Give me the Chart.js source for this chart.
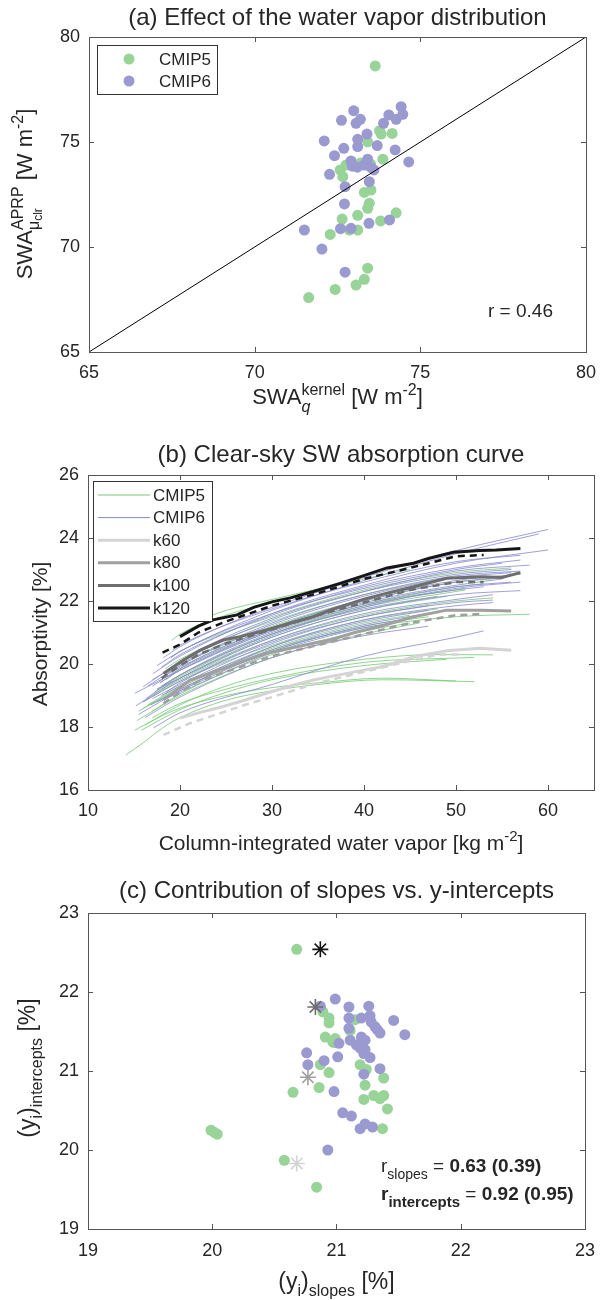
<!DOCTYPE html>
<html>
<head>
<meta charset="utf-8">
<title>Clear-sky SW absorption</title>
<script src="https://cdn.jsdelivr.net/npm/chart.js@4.4.1/dist/chart.umd.min.js"></script>
<style>
  html, body { margin: 0; padding: 0; background: #fff; }
  .panel { position: absolute; left: 0; width: 606px; }
</style>
</head>
<body>
<div class="panel" style="top:0;height:430px"><canvas id="chartA"></canvas></div>
<div class="panel" style="top:430px;height:440px"><canvas id="chartB"></canvas></div>
<div class="panel" style="top:870px;height:430px"><canvas id="chartC"></canvas></div>
<script>
var FONT = '"Liberation Sans", Arial, Helvetica, sans-serif';
var INK = '#262626';
var FRAME = '#555555';
var GREEN_DOT = 'rgb(152,211,152)';
var PURPLE_DOT = 'rgb(154,154,209)';
var GREEN_LINE = 'rgb(118,200,118)';
var PURPLE_LINE = 'rgb(136,136,206)';

// ---------- (a) water vapor distribution ----------
var aTicks = [65, 70, 75, 80];
var aCmip5X = [73.64, 72.58, 72.76, 72.66, 72.64, 72.28, 72.43, 71.63, 73.77, 73.82, 74.15, 73.41, 73.87, 73.31,
               73.51, 73.46, 73.41, 74.27, 73.11, 73.80, 73.11, 72.86, 73.41, 73.31, 73.06, 73.50, 73.20];
var aCmip5Y = [78.62, 73.67, 73.90, 73.35, 71.33, 70.60, 67.98, 67.59, 75.54, 75.38, 75.41, 75.01, 74.18, 72.60,
               72.71, 72.08, 71.84, 71.63, 71.51, 71.24, 70.81, 70.81, 68.99, 68.46, 68.19, 73.95, 74.00];
var aCmip6X = [72.62, 72.10, 72.69, 72.41, 72.26, 72.73, 72.71, 71.50, 72.59, 72.03, 72.73, 72.99, 73.06, 73.19,
               74.42, 74.05, 74.27, 74.47, 73.89, 73.39, 73.11, 73.11, 73.70, 74.24, 72.91, 73.41, 74.65, 72.95,
               73.10, 73.30, 73.50, 73.60, 73.46, 73.45, 74.07, 72.91];
var aCmip6Y = [76.03, 75.05, 74.70, 74.35, 73.46, 72.87, 72.05, 70.81, 70.87, 69.90, 68.80, 76.49, 75.89, 76.08,
               76.68, 76.29, 76.08, 76.32, 75.89, 75.38, 75.13, 74.78, 74.83, 74.62, 74.10, 74.18, 74.05, 73.85,
               73.80, 73.90, 73.80, 73.67, 73.11, 71.13, 71.29, 70.89];
var aOneToOne = [65, 80];
var aCorr = 'r = 0.46';

// ---------- (b) absorption curves ----------
var bXTicks = [10, 20, 30, 40, 50, 60];
var bYTicks = [16, 18, 20, 22, 24, 26];
var bCmip5 = [
  [[14.1,17.11],[16,17.5],[18,17.95],[20,18.3],[25,18.85],[30,19.15],[35,19.35],[42,19.5],[52,19.44]],
  [[15.1,17.9],[18,18.35],[20,18.6],[25,19.0],[30,19.25],[35,19.4],[42,19.55],[50,19.46]],
  [[15.8,17.9],[20,18.55],[25,19.1],[30,19.5],[40,19.95],[49,20.15]],
  [[17,18.3],[20,18.75],[25,19.2],[30,19.55],[40,20.05],[52,20.21]],
  [[16.2,18.06],[20,18.7],[25,19.3],[30,19.7],[40,20.15],[48,20.3],[54,20.29]],
  [[15.3,18.2],[20,19.0],[30,20.2],[40,20.95],[46,21.3]],
  [[17,18.5],[20,19.05],[30,20.3],[40,21.05],[45,21.3]],
  [[16.5,18.7],[20,19.3],[30,20.5],[40,21.3],[45,21.55]],
  [[16,18.6],[20,19.2],[30,20.4],[40,21.2],[47,21.5]],
  [[15.5,18.5],[20,19.25],[30,20.45],[40,21.15],[50,21.5],[58,21.58]],
  [[16,18.8],[20,19.45],[30,20.6],[40,21.4],[48,21.75]],
  [[17,19.0],[20,19.5],[30,20.75],[40,21.55],[50,22.0],[54,22.1]],
  [[18,19.2],[20,19.55],[30,20.85],[40,21.7],[49,22.15]],
  [[17.5,19.2],[20,19.65],[30,20.95],[40,21.8],[51,22.35]],
  [[17.2,19.1],[20,19.6],[30,20.95],[40,21.85],[50,22.45],[53,22.55]],
  [[17.8,19.4],[20,19.8],[30,21.05],[40,21.9],[51,22.4]],
  [[18.2,19.6],[20,19.95],[30,21.2],[40,22.05],[47,22.5]],
  [[18.5,19.5],[20,19.85],[30,21.15],[40,22.0],[50,22.6],[54,22.7]],
  [[18.4,19.85],[20,20.15],[30,21.35],[40,22.2],[49,22.75]],
  [[19,20.2],[20,20.4],[30,21.5],[40,22.35],[50,22.9],[56,23.05]],
  [[19.1,20.75],[20,20.95],[25,21.55],[30,21.95],[40,22.7],[45,23.0]],
  [[21.6,21.34],[25,21.7],[30,22.05],[36,22.45]]
];
var bCmip6 = [
  [[18.2,20.2],[20,20.55],[25,21.25],[30,21.8],[40,22.75],[50,23.6],[60,24.27]],
  [[17.5,19.95],[20,20.4],[30,21.7],[40,22.65],[50,23.5],[59,24.13]],
  [[17.1,19.7],[20,20.25],[30,21.6],[40,22.5],[50,23.2],[60,23.62]],
  [[18,19.9],[20,20.3],[30,21.55],[40,22.45],[50,23.05],[57,23.3]],
  [[19.2,20.45],[20,20.6],[30,21.75],[40,22.6],[50,23.25],[57,23.45]],
  [[19,20.2],[20,20.4],[30,21.6],[40,22.4],[50,23.0],[55,23.2]],
  [[16,19.28],[20,20.05],[30,21.4],[40,22.3],[50,22.95],[58,23.14]],
  [[18.6,19.8],[20,20.1],[30,21.45],[40,22.3],[50,22.85],[56,23.0]],
  [[17,19.5],[20,20.0],[30,21.3],[40,22.2],[50,22.8],[57,22.95]],
  [[16.5,19.3],[20,19.95],[30,21.25],[40,22.15],[50,22.75],[56,22.9]],
  [[18.2,19.6],[20,19.9],[30,21.15],[40,22.05],[50,22.65],[57,22.85]],
  [[17.8,19.4],[20,19.8],[30,21.1],[40,22.0],[50,22.6],[55,22.75]],
  [[17,19.3],[20,19.85],[30,21.1],[40,21.95],[50,22.5],[55,22.7]],
  [[15.1,19.07],[20,19.8],[30,21.05],[40,21.9],[50,22.45],[56,22.6]],
  [[15.2,18.67],[20,19.55],[30,20.9],[40,21.8],[50,22.4],[57,22.6]],
  [[16.3,18.9],[20,19.65],[30,21.0],[40,21.85],[50,22.35],[53,22.45]],
  [[18,19.3],[20,19.65],[30,20.95],[40,21.75],[48,22.15]],
  [[17.5,19.2],[20,19.55],[30,20.85],[40,21.7],[50,22.2],[57,22.33]],
  [[16,18.8],[20,19.45],[30,20.75],[40,21.6],[50,22.05],[54,22.2]],
  [[17,18.9],[20,19.35],[30,20.65],[40,21.5],[50,21.95],[54,22.03]],
  [[15.5,18.4],[20,19.15],[30,20.55],[40,21.4],[50,21.85],[54,21.95]],
  [[18,19.0],[20,19.3],[30,20.55],[40,21.35],[47,21.7]],
  [[18.5,19.1],[20,19.4],[30,20.7],[40,21.5],[47,21.85]],
  [[17.5,18.8],[20,19.2],[30,20.45],[40,21.25],[47,21.6]],
  [[16.8,18.7],[20,19.15],[30,20.4],[40,21.2],[45,21.45]],
  [[16.2,18.3],[20,18.95],[30,20.2],[40,20.9],[47,21.2]],
  [[18.5,18.9],[20,19.1],[30,20.35],[40,21.15],[43,21.3]],
  [[17.1,17.97],[20,18.45],[30,19.35],[40,20.25],[50,20.85],[53,21.05]]
];
var kNames = ['k60', 'k80', 'k100', 'k120'];
var kSolid = [
  [[20,18.28],[22,18.45],[24.7,18.65],[27,18.85],[29.4,19.07],[32,19.3],[34.5,19.49],[36.3,19.6],[39,19.75],[41.7,19.9],[43,20.0],[45.4,20.23],[49,20.42],[52.6,20.5],[56,20.44]],
  [[18.2,18.86],[21.1,19.49],[24.3,19.81],[27,20.1],[29.4,20.34],[32,20.5],[34.5,20.66],[36.3,20.76],[39,21.0],[41.7,21.19],[45.4,21.5],[49,21.71],[52.6,21.71],[56,21.68]],
  [[18.2,19.7],[20.4,20.13],[22.2,20.44],[24.7,20.76],[26.5,20.87],[29.4,21.08],[32,21.3],[34.5,21.5],[36.3,21.71],[39.9,22.05],[42.5,22.25],[45.4,22.45],[49,22.72],[52.9,22.77],[55,22.75],[57,22.9]],
  [[20,20.87],[22,21.2],[23.6,21.4],[26.2,21.56],[28,21.8],[30.1,21.98],[32,22.1],[34.5,22.3],[37.4,22.56],[39.9,22.8],[42.5,23.05],[45.4,23.2],[47,23.35],[49.7,23.55],[52.6,23.6],[54.4,23.62],[57,23.67]]
];
var kDashed = [
  [[18.2,17.75],[21.1,18.12],[24,18.4],[27,18.7],[30,18.95],[35,19.4],[40,19.75],[45,20.1],[48,20.3],[50.7,20.3]],
  [[18.2,18.75],[20,19.1],[22,19.45],[25,19.75],[30,20.25],[35,20.6],[40,20.95],[45,21.3],[50,21.55],[53,21.59]],
  [[18,19.55],[20,19.95],[22,20.3],[25,20.65],[30,21.1],[35,21.55],[40,21.95],[45,22.35],[50,22.6],[53,22.6]],
  [[18.1,20.36],[20,20.62],[22,21.0],[25,21.35],[30,21.85],[35,22.25],[40,22.7],[45,23.05],[50,23.42],[53,23.46]]
];
var kColors = ['rgb(212,212,212)', 'rgb(160,160,160)', 'rgb(110,110,110)', 'rgb(22,22,22)'];

// ---------- (c) slopes vs intercepts ----------
var cTicks = [19, 20, 21, 22, 23];
var cCmip5X = [20.68, 20.89, 20.94, 20.94, 20.91, 20.97, 20.87, 20.94, 20.86, 20.65, 19.99, 20.02, 20.04, 20.58, 20.84,
               21.15, 21.11, 20.99, 20.98, 21.19, 21.24, 21.38, 21.23, 21.30, 21.35, 21.38, 21.22, 21.41, 21.37];
var cCmip5Y = [22.54, 21.75, 21.67, 21.61, 21.43, 21.37, 21.08, 20.98, 20.79, 20.73, 20.25, 20.22, 20.20, 19.87, 19.53,
               21.65, 21.51, 21.41, 21.36, 21.08, 21.02, 20.91, 20.82, 20.69, 20.65, 20.69, 20.64, 20.52, 20.27];
var cCmip6X = [20.87, 20.99, 21.10, 21.26, 21.10, 21.20, 21.27, 21.28, 21.31, 21.33, 21.35, 21.46, 21.55, 21.10, 21.02,
               21.11, 21.16, 21.20, 21.23, 21.19, 21.23, 21.22, 21.27, 21.01, 20.76, 20.77, 20.90, 21.35, 21.22, 20.98,
               21.05, 21.12, 21.19, 21.23, 21.29, 20.93];
var cCmip6Y = [21.82, 21.91, 21.81, 21.82, 21.67, 21.67, 21.70, 21.62, 21.56, 21.52, 21.48, 21.64, 21.46, 21.54, 21.35,
               21.39, 21.33, 21.43, 21.39, 21.29, 21.27, 21.22, 21.17, 21.18, 21.23, 21.08, 21.13, 21.03, 20.96, 20.74,
               20.47, 20.43, 20.27, 20.33, 20.29, 20.00];
var cKernelX = [20.68, 20.77, 20.83, 20.87];
var cKernelY = [19.83, 20.92, 21.81, 22.54];

// ---------- helpers ----------
function xy(xs, ys) {
  return xs.map(function (x, i) { return { x: x, y: ys[i] }; });
}
function pts(curve) {
  return curve.map(function (p) { return { x: p[0], y: p[1] }; });
}
function fontOf(s) {
  return (s.i ? 'italic ' : '') + (s.b ? 'bold ' : '') + (s.size || 21) + 'px ' + FONT;
}
// draws text with super/subscripts; stacked scripts share a start position
function drawRich(ctx, segs, x, y, align, rot) {
  ctx.save();
  ctx.translate(x, y);
  if (rot) ctx.rotate(rot);
  ctx.textAlign = 'left';
  ctx.textBaseline = 'alphabetic';
  ctx.fillStyle = INK;
  var pos = 0, groupStart = 0, maxPos = 0;
  var placed = segs.map(function (s) {
    ctx.font = fontOf(s);
    var w = ctx.measureText(s.t).width;
    var start = s.stack ? groupStart : (s.script ? pos : maxPos);
    if (s.g) groupStart = start;
    pos = start + w;
    maxPos = Math.max(maxPos, pos);
    return { s: s, start: start };
  });
  var off = align === 'center' ? -maxPos / 2 : 0;
  placed.forEach(function (p) {
    ctx.font = fontOf(p.s);
    ctx.fillText(p.s.t, p.start + off, p.s.dy || 0);
  });
  ctx.restore();
}
function title(ctx, a, text, baseline) {
  ctx.save();
  ctx.font = '24px ' + FONT;
  ctx.fillStyle = INK;
  ctx.textAlign = 'center';
  ctx.textBaseline = 'alphabetic';
  ctx.fillText(text, (a.left + a.right) / 2, baseline);
  ctx.restore();
}
function axis(ticks, min, max, size, pad) {
  return {
    type: 'linear', min: min, max: max,
    grid: { display: false, drawTicks: false },
    border: { display: false },
    ticks: { font: { family: FONT, size: 18 }, color: INK, padding: pad },
    afterBuildTicks: function (s) { s.ticks = ticks.map(function (v) { return { value: v }; }); },
    afterFit: function (s) { if (s.isHorizontal()) { s.height = size; } else { s.width = size; } }
  };
}
function base(pad, xs, ys) {
  return {
    responsive: true, maintainAspectRatio: false, animation: false, events: [],
    layout: { padding: pad },
    plugins: { legend: { display: false }, tooltip: { enabled: false } },
    scales: { x: xs, y: ys }
  };
}
// box + inward ticks on all four sides, then the panel's own text
function frame(extra) {
  return {
    id: 'frame',
    afterDraw: function (chart) {
      var ctx = chart.ctx, a = chart.chartArea, sx = chart.scales.x, sy = chart.scales.y;
      ctx.save();
      ctx.strokeStyle = FRAME;
      ctx.lineWidth = 1;
      ctx.beginPath();
      sx.ticks.forEach(function (t) {
        var p = Math.round(sx.getPixelForValue(t.value)) + 0.5;
        ctx.moveTo(p, a.bottom); ctx.lineTo(p, a.bottom - 5);
        ctx.moveTo(p, a.top); ctx.lineTo(p, a.top + 5);
      });
      sy.ticks.forEach(function (t) {
        var p = Math.round(sy.getPixelForValue(t.value)) + 0.5;
        ctx.moveTo(a.left, p); ctx.lineTo(a.left + 5, p);
        ctx.moveTo(a.right, p); ctx.lineTo(a.right - 5, p);
      });
      ctx.stroke();
      ctx.strokeRect(Math.round(a.left) + 0.5, Math.round(a.top) + 0.5,
                     Math.round(a.right - a.left), Math.round(a.bottom - a.top));
      ctx.restore();
      extra(ctx, a);
    }
  };
}

// ---------- chart (a) ----------
new Chart(document.getElementById('chartA'), {
  type: 'scatter',
  data: { datasets: [
    { label: 'CMIP5', data: xy(aCmip5X, aCmip5Y), backgroundColor: GREEN_DOT, borderWidth: 0, pointRadius: 5.5, order: 3 },
    { label: 'CMIP6', data: xy(aCmip6X, aCmip6Y), backgroundColor: PURPLE_DOT, borderWidth: 0, pointRadius: 5.5, order: 2 },
    { label: '1:1', data: xy(aOneToOne, aOneToOne), showLine: true, borderColor: '#000', borderWidth: 1, pointRadius: 0, order: 1 }
  ]},
  options: base({ left: 49, right: 19, top: 37, bottom: 38 }, axis(aTicks, 65, 80, 40, 10), axis(aTicks, 65, 80, 40, 9)),
  plugins: [frame(function (ctx, a) {
    title(ctx, a, '(a) Effect of the water vapor distribution', 25);
    drawRich(ctx, [
      { t: 'SWA', size: 22 }, { t: 'kernel', size: 16, dy: -9, script: 1, g: 1 }, { t: 'q', size: 16, dy: 8, i: 1, script: 1, stack: 1 },
      { t: ' [W m', size: 22 }, { t: '-2', size: 16, dy: -9, script: 1 }, { t: ']', size: 22 }
    ], (a.left + a.right) / 2, 404, 'center');
    drawRich(ctx, [
      { t: 'SWA', size: 22 }, { t: 'APRP', size: 16, dy: -9, script: 1, g: 1 }, { t: '\u03bc', size: 16, dy: 7, script: 1, stack: 1 },
      { t: 'clr', size: 12, dy: 10, script: 1 }, { t: ' [W m', size: 22 }, { t: '-2', size: 16, dy: -9, script: 1 }, { t: ']', size: 22 }
    ], 32, 194, 'center', -Math.PI / 2);
    // legend
    ctx.save();
    ctx.strokeStyle = '#333';
    ctx.lineWidth = 1;
    ctx.strokeRect(97.5, 45.5, 120, 49);
    [['CMIP5', GREEN_DOT, 59], ['CMIP6', PURPLE_DOT, 81]].forEach(function (e) {
      ctx.fillStyle = e[1];
      ctx.beginPath(); ctx.arc(129, e[2], 5.5, 0, Math.PI * 2); ctx.fill();
      ctx.fillStyle = INK;
      ctx.font = '17px ' + FONT;
      ctx.textBaseline = 'middle';
      ctx.fillText(e[0], 159, e[2] + 1);
    });
    ctx.font = '19px ' + FONT;
    ctx.textBaseline = 'alphabetic';
    ctx.fillText(aCorr, 488, 317);
    ctx.restore();
  })]
});

// ---------- chart (b) ----------
var bSets = [];
bCmip5.forEach(function (c) {
  bSets.push({ data: pts(c), borderColor: GREEN_LINE, borderWidth: 0.8, pointRadius: 0, cubicInterpolationMode: 'monotone', order: 4 });
});
bCmip6.forEach(function (c) {
  bSets.push({ data: pts(c), borderColor: PURPLE_LINE, borderWidth: 0.8, pointRadius: 0, cubicInterpolationMode: 'monotone', order: 3 });
});
kNames.forEach(function (n, i) {
  bSets.push({ label: n + ' (dashed)', data: pts(kDashed[i]), borderColor: kColors[i], borderWidth: 2.5, borderDash: [7, 5], pointRadius: 0, order: 2 });
  bSets.push({ label: n, data: pts(kSolid[i]), borderColor: kColors[i], borderWidth: 3, pointRadius: 0, order: 1 });
});
new Chart(document.getElementById('chartB'), {
  type: 'line',
  data: { datasets: bSets },
  options: base({ left: 48, right: 12, top: 45, bottom: 40 }, axis(bXTicks, 10, 65, 40, 10), axis(bYTicks, 16, 26, 40, 9)),
  plugins: [frame(function (ctx, a) {
    title(ctx, a, '(b) Clear-sky SW absorption curve', 32);
    drawRich(ctx, [{ t: 'Column-integrated water vapor [kg m' }, { t: '-2', size: 15, dy: -9, script: 1 }, { t: ']' }],
             (a.left + a.right) / 2, 420, 'center');
    drawRich(ctx, [{ t: 'Absorptivity [%]' }], 47, 204, 'center', -Math.PI / 2);
    // legend
    ctx.save();
    ctx.fillStyle = '#fff';
    ctx.fillRect(93.5, 51.5, 119, 140);
    ctx.strokeStyle = '#333';
    ctx.lineWidth = 1;
    ctx.strokeRect(93.5, 51.5, 119, 140);
    var entries = [['CMIP5', GREEN_LINE, 1], ['CMIP6', PURPLE_LINE, 1]];
    kNames.forEach(function (n, i) { entries.push([n, kColors[i], 3]); });
    entries.forEach(function (e, i) {
      var yy = 65 + i * 22.6;
      ctx.strokeStyle = e[1];
      ctx.lineWidth = e[2];
      ctx.beginPath(); ctx.moveTo(98, yy); ctx.lineTo(150, yy); ctx.stroke();
      ctx.fillStyle = INK;
      ctx.font = '17px ' + FONT;
      ctx.textBaseline = 'middle';
      ctx.fillText(e[0], 153, yy + 1);
    });
    ctx.restore();
  })]
});

// ---------- chart (c) ----------
new Chart(document.getElementById('chartC'), {
  type: 'scatter',
  data: { datasets: [
    { label: 'CMIP5', data: xy(cCmip5X, cCmip5Y), backgroundColor: GREEN_DOT, borderWidth: 0, pointRadius: 5.5, order: 3 },
    { label: 'CMIP6', data: xy(cCmip6X, cCmip6Y), backgroundColor: PURPLE_DOT, borderWidth: 0, pointRadius: 5.5, order: 2 },
    { label: 'kernels', data: xy(cKernelX, cKernelY), pointStyle: 'star', pointRadius: 8, borderWidth: 1.6,
      borderColor: kColors, backgroundColor: kColors, order: 1 }
  ]},
  options: base({ left: 48, right: 12, top: 43, bottom: 31 }, axis(cTicks, 19, 23, 40, 11), axis(cTicks, 19, 23, 40, 9)),
  plugins: [frame(function (ctx, a) {
    title(ctx, a, '(c) Contribution of slopes vs. y-intercepts', 28);
    drawRich(ctx, [{ t: '(y', size: 23 }, { t: 'i', size: 16, dy: 7, script: 1 }, { t: ')', size: 23 }, { t: 'slopes', size: 16, dy: 7, script: 1 }, { t: ' [%]', size: 23 }],
             (a.left + a.right) / 2, 419, 'center');
    drawRich(ctx, [{ t: '(y', size: 23 }, { t: 'i', size: 16, dy: 7, script: 1 }, { t: ')', size: 23 }, { t: 'intercepts', size: 16, dy: 7, script: 1 }, { t: ' [%]', size: 23 }],
             35, 198, 'center', -Math.PI / 2);
    drawRich(ctx, [{ t: 'r', size: 19 }, { t: 'slopes', size: 14, dy: 7, script: 1 }, { t: ' = ', size: 19 }, { t: '0.63 (0.39)', size: 19, b: 1 }],
             381, 302, 'left');
    drawRich(ctx, [{ t: 'r', size: 19, b: 1 }, { t: 'intercepts', size: 15, dy: 7, b: 1, script: 1 }, { t: ' = ', size: 19 }, { t: '0.92 (0.95)', size: 19, b: 1 }],
             381, 330, 'left');
  })]
});
</script>
</body>
</html>
